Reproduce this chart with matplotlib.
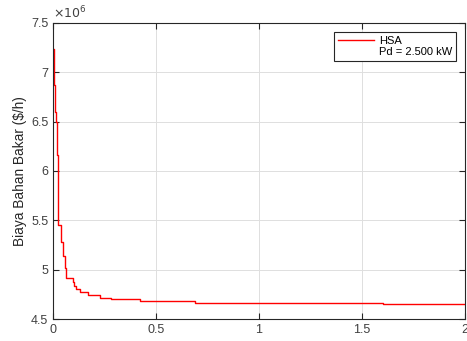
import numpy as np
import matplotlib
matplotlib.use("Agg")
import matplotlib.pyplot as plt
from matplotlib.lines import Line2D

plt.rcParams['font.family'] = ['Liberation Sans', 'DejaVu Sans']
plt.rcParams['font.size'] = 9

# step points of the convergence curve (x in x10^4 iterations, cost in x10^6 $/h)
iters = [0.0, 0.003, 0.005, 0.012, 0.016, 0.019, 0.023, 0.025, 0.037, 0.05,
         0.058, 0.063, 0.095, 0.103, 0.114, 0.13, 0.17, 0.23, 0.28, 0.42,
         0.69, 1.12, 1.6, 2.0]
cost = [7.24, 7.24, 6.87, 6.60, 6.50, 6.16, 5.45, 5.45, 5.28, 5.14,
        5.02, 4.92, 4.87, 4.83, 4.80, 4.77, 4.74, 4.71, 4.70, 4.682,
        4.665, 4.659, 4.655, 4.655]
xticks = [0, 0.5, 1, 1.5, 2]
xlabels = ['0', '0.5', '1', '1.5', '2']
yticks = [4.5, 5, 5.5, 6, 6.5, 7, 7.5]
ylabels = ['4.5', '5', '5.5', '6', '6.5', '7', '7.5']

fig = plt.figure(figsize=(4.67, 3.41), dpi=100)
ax = fig.add_axes([0.1135, 0.0645, 0.8822, 0.8681])

ax.step(iters, cost, where='post', color='red', lw=1.0)

ax.set_xlim(0, 2)
ax.set_ylim(4.5, 7.5)
ax.set_xticks(xticks)
ax.set_xticklabels(xlabels)
ax.set_yticks(yticks)
ax.set_yticklabels(ylabels)

ax.grid(True, color='#dedede', lw=0.7)
ax.set_axisbelow(True)
ax.tick_params(direction='in', top=True, right=True, length=4, colors='#262626',
               labelcolor='#404040', labelsize=9)
for s in ax.spines.values():
    s.set_color('#262626')
    s.set_linewidth(0.8)

ax.text(0.0, 1.005, r'$\times10^{6}$', transform=ax.transAxes, ha='left', va='bottom',
        color='#404040', fontsize=9)
ax.set_ylabel('Biaya Bahan Bakar ($/h)', color='#262626', fontsize=9.8, labelpad=2.5)

handles = [Line2D([], [], color='red', lw=1.0), Line2D([], [], color='none')]
leg = ax.legend(handles, ['HSA', 'Pd = 2.500 kW'], loc='upper right',
                bbox_to_anchor=(0.978, 0.970), borderaxespad=0, fancybox=False,
                framealpha=1, edgecolor='#262626', handlelength=3.25, borderpad=0.35,
                labelspacing=0.1, handletextpad=0.45, fontsize=8)
leg.get_frame().set_linewidth(0.8)

fig.savefig('out.png', dpi=100)
